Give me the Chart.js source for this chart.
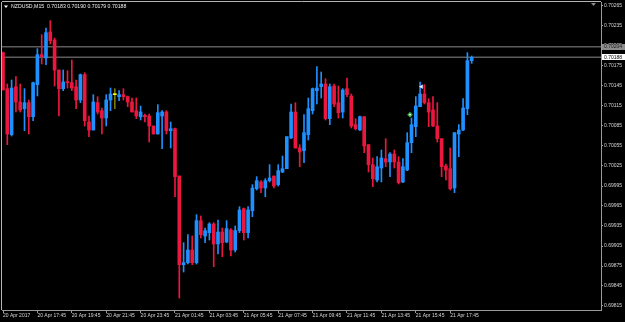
<!DOCTYPE html>
<html><head><meta charset="utf-8">
<script src="https://cdn.jsdelivr.net/npm/chart.js@4.4.0/dist/chart.umd.min.js"></script>
<style>html,body{margin:0;padding:0;background:#000;overflow:hidden}</style>
</head><body><canvas id="c" width="625" height="322"></canvas>
<script>
const symbolTitle = 'NZDUSD,M15  0.70183 0.70190 0.70179 0.70188';
const opens = [
0.70195,0.70141,0.70072,0.70144,0.70121,0.70111,0.70120,0.70099,0.70147,0.70192,
0.70187,0.70226,0.70214,0.70169,0.70141,0.70151,0.70150,0.70144,0.70124,0.70162,
0.70091,0.70079,0.70120,0.70108,0.70097,0.70124,0.70132,0.70129,0.70132,0.70129,
0.70121,0.70108,0.70099,0.70101,0.70100,0.70085,0.70073,0.70100,0.70106,0.70078,
0.70081,0.70010,0.69877,0.69880,0.69899,0.69880,0.69943,0.69920,0.69925,0.69938,
0.69908,0.69926,0.69911,0.69929,0.69899,0.69928,0.69961,0.69925,0.69958,0.69991,
0.70001,0.69992,0.70003,0.70010,0.69997,0.70016,0.70021,0.70067,0.70106,0.70052,
0.70048,0.70072,0.70108,0.70138,0.70144,0.70148,0.70096,0.70145,0.70120,0.70106,
0.70141,0.70130,0.70087,0.70079,0.70099,0.70057,0.70027,0.70004,0.70022,0.70036,
0.70031,0.70043,0.70031,0.70001,0.70019,0.70060,0.70084,0.70114,0.70133,0.70120,
0.70109,0.70085,0.70066,0.70025,0.70021,0.69992,0.70073,0.70079,0.70111,0.70183];
const highs = [
0.70196,0.70148,0.70154,0.70159,0.70148,0.70141,0.70124,0.70151,0.70201,0.70222,
0.70232,0.70243,0.70217,0.70169,0.70169,0.70168,0.70184,0.70154,0.70163,0.70165,
0.70100,0.70132,0.70129,0.70112,0.70132,0.70142,0.70141,0.70138,0.70141,0.70130,
0.70127,0.70127,0.70115,0.70103,0.70103,0.70085,0.70117,0.70108,0.70108,0.70091,
0.70082,0.70010,0.69910,0.69922,0.69920,0.69952,0.69950,0.69932,0.69940,0.69940,
0.69944,0.69932,0.69943,0.69931,0.69935,0.69964,0.69962,0.69964,0.69997,0.70009,
0.70003,0.70006,0.70027,0.70010,0.70027,0.70040,0.70069,0.70118,0.70120,0.70057,
0.70102,0.70127,0.70142,0.70174,0.70166,0.70156,0.70148,0.70148,0.70145,0.70141,
0.70157,0.70133,0.70096,0.70100,0.70099,0.70057,0.70037,0.70039,0.70049,0.70066,
0.70045,0.70049,0.70039,0.70036,0.70075,0.70097,0.70129,0.70151,0.70147,0.70126,
0.70129,0.70120,0.70066,0.70028,0.70052,0.70075,0.70087,0.70126,0.70195,0.70190];
const lows = [
0.70139,0.70057,0.70070,0.70106,0.70106,0.70078,0.70073,0.70093,0.70130,0.70178,
0.70177,0.70208,0.70145,0.70100,0.70138,0.70142,0.70138,0.70111,0.70120,0.70085,
0.70069,0.70079,0.70103,0.70073,0.70085,0.70108,0.70111,0.70123,0.70124,0.70114,
0.70106,0.70096,0.70094,0.70091,0.70061,0.70073,0.70073,0.70051,0.70073,0.70052,
0.69979,0.69827,0.69866,0.69878,0.69877,0.69878,0.69917,0.69910,0.69914,0.69874,
0.69893,0.69889,0.69910,0.69890,0.69896,0.69925,0.69914,0.69917,0.69949,0.69989,
0.69985,0.69979,0.70001,0.69992,0.69995,0.70015,0.70021,0.70066,0.70052,0.70024,
0.70030,0.70064,0.70103,0.70118,0.70127,0.70094,0.70087,0.70114,0.70097,0.70097,
0.70129,0.70082,0.70079,0.70078,0.70045,0.70016,0.69994,0.70001,0.70001,0.70024,
0.70009,0.70022,0.69998,0.70000,0.70018,0.70045,0.70069,0.70114,0.70118,0.70084,
0.70084,0.70061,0.70009,0.70004,0.69989,0.69985,0.70039,0.70078,0.70102,0.70179];
const closes = [
0.70139,0.70073,0.70142,0.70121,0.70109,0.70120,0.70099,0.70150,0.70192,0.70189,
0.70225,0.70213,0.70169,0.70141,0.70151,0.70150,0.70142,0.70124,0.70162,0.70093,
0.70079,0.70121,0.70106,0.70097,0.70124,0.70133,0.70132,0.70132,0.70129,0.70121,
0.70106,0.70100,0.70106,0.70099,0.70085,0.70073,0.70105,0.70106,0.70078,0.70081,
0.70009,0.69877,0.69880,0.69899,0.69880,0.69943,0.69922,0.69928,0.69938,0.69908,
0.69926,0.69910,0.69931,0.69899,0.69928,0.69959,0.69925,0.69959,0.69992,0.70003,
0.69992,0.70003,0.70007,0.69995,0.70018,0.70021,0.70069,0.70106,0.70052,0.70046,
0.70075,0.70111,0.70141,0.70142,0.70148,0.70096,0.70144,0.70118,0.70105,0.70139,
0.70132,0.70085,0.70081,0.70099,0.70055,0.70027,0.70006,0.70024,0.70037,0.70031,
0.70043,0.70031,0.70000,0.70024,0.70060,0.70087,0.70115,0.70133,0.70120,0.70106,
0.70085,0.70066,0.70024,0.70019,0.69991,0.70075,0.70079,0.70112,0.70183,0.70188];
const timeTickLabels = ['20 Apr 2017','20 Apr 17:45','20 Apr 19:45','20 Apr 21:45','20 Apr 23:45',
 '21 Apr 01:45','21 Apr 03:45','21 Apr 05:45','21 Apr 07:45','21 Apr 09:45','21 Apr 11:45',
 '21 Apr 13:45','21 Apr 15:45','21 Apr 17:45'];
const barsPerTick = 8;
const priceTicks = [0.69815,0.69845,0.69875,0.69905,0.69935,0.69965,0.69995,0.70025,0.70055,
 0.70085,0.70115,0.70145,0.70175,0.70205,0.70235,0.70265];
const levelLines = [0.70204, 0.70188];
const tradeMarkX = [97.35, 94.65];
const tradeMarkY = [0.70144, 0.70102];

const UP = '#1e90ff', DOWN = '#ec173f', DOJI_BODY = '#ffff00', DOJI_WICK = '#7a7a00';
const idx = opens.map((_, i) => i);
const bodyColor = idx.map(i => closes[i] > opens[i] ? UP : (closes[i] < opens[i] ? DOWN : DOJI_BODY));
const wickColor = idx.map(i => closes[i] > opens[i] ? UP : (closes[i] < opens[i] ? DOWN : DOJI_WICK));
const FONT = {family: 'Liberation Sans', size: 5};
const TXT = '#d6d6d6', FRAME = '#9a9a9a';

const decor = {
  id: 'decor',
  beforeDraw(chart) {
    const c = chart.ctx;
    c.save(); c.fillStyle = '#000'; c.fillRect(0, 0, chart.width, chart.height); c.restore();
  },
  afterDraw(chart) {
    const c = chart.ctx, a = chart.chartArea, ys = chart.scales.y;
    c.save();
    c.strokeStyle = '#b4b4b4'; c.lineWidth = 1;
    c.beginPath(); c.moveTo(a.left - 0.5, a.top); c.lineTo(a.left - 0.5, a.bottom); c.stroke();
    c.beginPath(); c.moveTo(a.left, a.top - 0.5); c.lineTo(a.right, a.top - 0.5); c.stroke();
    c.fillStyle = '#ffffff';
    c.beginPath(); c.moveTo(4, 5.5); c.lineTo(8, 5.5); c.lineTo(6, 8); c.closePath(); c.fill();
    c.font = '5.2px "Liberation Sans"'; c.textBaseline = 'middle'; c.textAlign = 'left';
    c.fillStyle = '#eeeeee';
    c.fillText(symbolTitle, 11, 7);
    c.fillStyle = '#8a8a8a';
    c.beginPath(); c.moveTo(591, 3); c.lineTo(596, 3); c.lineTo(593.5, 6); c.closePath(); c.fill();
    const boxes = [[levelLines[0], '#8c8c8c', '#1a1a1a'], [levelLines[1], '#ffffff', '#000000']];
    boxes.forEach(([v, bg, fg]) => {
      const y = ys.getPixelForValue(v);
      c.fillStyle = bg; c.fillRect(a.right + 1, Math.round(y) - 3, 24, 6);
      c.fillStyle = fg; c.font = '5px "Liberation Sans"';
      c.fillText(v.toFixed(5), a.right + 3, y + 0.3);
    });
    c.restore();
  }
};

new Chart(document.getElementById('c'), {
  type: 'bar',
  data: {
    datasets: [
      ...levelLines.map(v => ({type: 'line', data: [{x: -1, y: v}, {x: 140, y: v}],
        borderColor: '#5c5c5c', borderWidth: 1.5, pointRadius: 0, order: 5})),
      {label: 'wick', data: idx.map(i => ({x: i, y: [lows[i], highs[i]]})),
        backgroundColor: wickColor, barThickness: 1, grouped: false, borderWidth: 0, order: 2},
      {label: 'body', data: idx.map(i => ({x: i, y: [Math.min(opens[i], closes[i]), Math.max(opens[i], closes[i])]})),
        backgroundColor: bodyColor, barThickness: 3, grouped: false, borderWidth: 0, minBarLength: 1, order: 1},
      {type: 'scatter', data: [{x: tradeMarkX[0], y: tradeMarkY[0]}],
        pointStyle: 'triangle', rotation: -90, pointRadius: 2.2, backgroundColor: '#ffffff', borderColor: '#cfd8ff', borderWidth: 0.5, order: 0},
      {type: 'scatter', data: [{x: tradeMarkX[1], y: tradeMarkY[1]}],
        pointStyle: 'rectRot', pointRadius: 2, backgroundColor: '#ffffff', borderColor: '#2fa83a', borderWidth: 1.2, order: 0}
    ]
  },
  options: {
    responsive: false, animation: false, devicePixelRatio: 1,
    layout: {autoPadding: false, padding: {left: 2, top: 2, right: 0, bottom: 0}},
    plugins: {legend: {display: false}, tooltip: {enabled: false}},
    scales: {
      x: {type: 'linear', min: -1 / 4.3, max: -1 / 4.3 + 599 / 4.3, offset: false,
        afterBuildTicks: s => { s.ticks = timeTickLabels.map((_, k) => ({value: k * barsPerTick})); },
        afterFit: s => { s.height = 12; s.paddingLeft = 0; s.paddingRight = 0; },
        ticks: {autoSkip: false, maxRotation: 0, minRotation: 0, align: 'start', padding: 0, color: TXT, font: FONT,
          callback: v => timeTickLabels[Math.round(v / barsPerTick)]},
        grid: {drawOnChartArea: false, drawTicks: true, tickLength: 3, color: FRAME, offset: false},
        border: {display: true, color: FRAME}
      },
      y: {type: 'linear', position: 'right', min: 0.69809, max: 0.70271,
        afterBuildTicks: s => { s.ticks = priceTicks.map(v => ({value: v})); },
        afterFit: s => { s.width = 24; s.paddingTop = 0; s.paddingBottom = 0; },
        ticks: {color: TXT, font: FONT, padding: 1, callback: v => v.toFixed(5)},
        grid: {drawOnChartArea: false, drawTicks: true, tickLength: 2, color: FRAME},
        border: {display: true, color: FRAME}
      }
    }
  },
  plugins: [decor]
});
</script></body></html>
